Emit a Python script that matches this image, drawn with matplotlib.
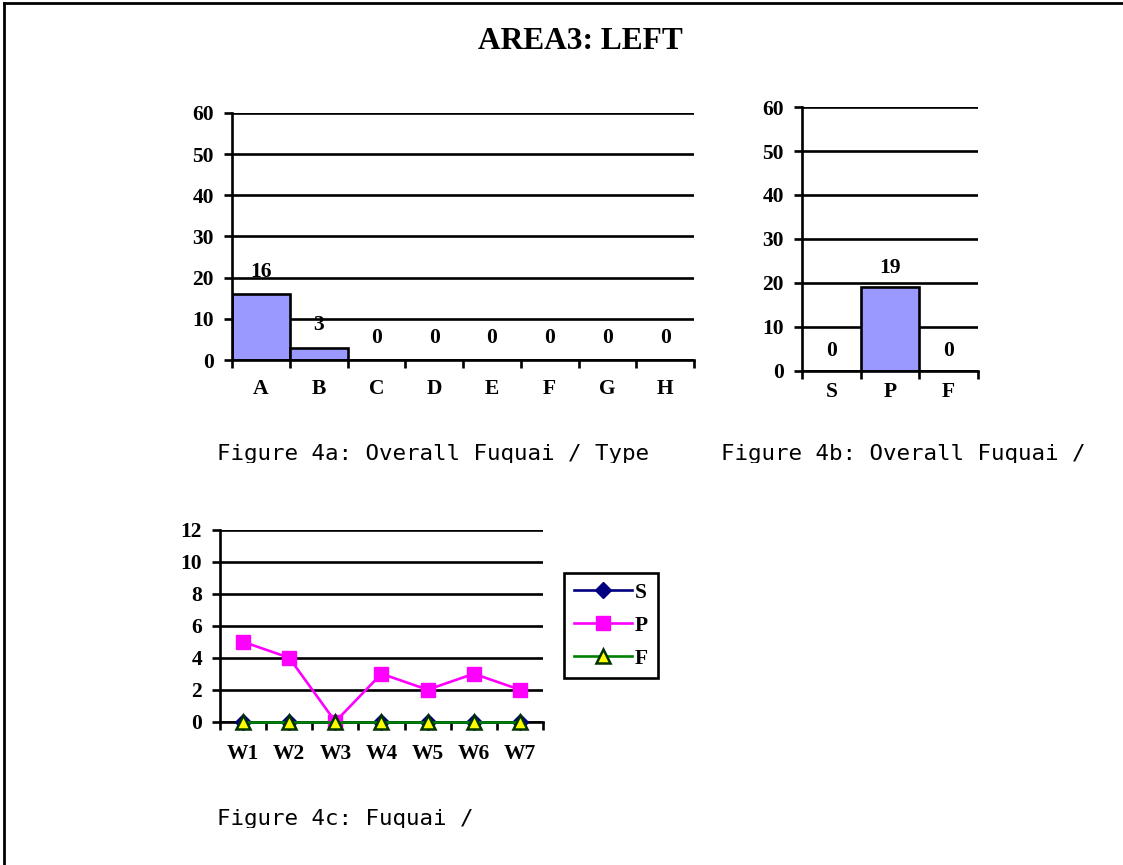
import matplotlib
matplotlib.use("Agg")
import matplotlib.pyplot as plt
from matplotlib.lines import Line2D
from matplotlib.transforms import Bbox, TransformedBbox

# Data
types = ['A', 'B', 'C', 'D', 'E', 'F', 'G', 'H']
type_counts = [16, 3, 0, 0, 0, 0, 0, 0]

spf = ['S', 'P', 'F']
spf_counts = [0, 19, 0]

weeks = ['W1', 'W2', 'W3', 'W4', 'W5', 'W6', 'W7']
week_s = [0, 0, 0, 0, 0, 0, 0]
week_p = [5, 4, 0, 3, 2, 3, 2]
week_f = [0, 0, 0, 0, 0, 0, 0]

SERIF = 'Liberation Serif'
LW = 1.9
FS = 15.5
BAR_COLOR = '#9999FF'


def style_axes(ax, labels, ymax, ystep, ypad, xpad):
    n = len(labels)
    ax.set_xlim(-0.5, n - 0.5)
    ax.set_ylim(0, ymax)
    ax.set_yticks(range(0, ymax + 1, ystep))
    for s in ['top', 'right']:
        ax.spines[s].set_visible(False)
    for s in ['left', 'bottom']:
        ax.spines[s].set_linewidth(LW)
    ax.set_axisbelow(True)
    ax.yaxis.grid(True, color='black', linewidth=LW)
    # ticks at category boundaries, labels at centres
    ax.set_xticks([i - 0.5 for i in range(n + 1)])
    ax.set_xticklabels([])
    ax.set_xticks(range(n), minor=True)
    ax.set_xticklabels(labels, minor=True, fontfamily=SERIF,
                       fontweight='bold', fontsize=FS)
    ax.tick_params(axis='x', which='major', direction='out', length=5.5, width=LW)
    ax.tick_params(axis='x', which='minor', length=0, pad=xpad)
    ax.tick_params(axis='y', direction='out', length=6, width=LW, pad=ypad)
    for lab in ax.get_yticklabels():
        lab.set_fontfamily(SERIF)
        lab.set_fontweight('bold')
        lab.set_fontsize(FS)


def caption(fig, x, y, txt, clip_y):
    t = fig.text(x, y, txt, fontsize=16.2, family='DejaVu Sans Mono',
                 ha='left', va='baseline')
    t.set_clip_box(TransformedBbox(Bbox([[0, clip_y], [1, 1]]), fig.transFigure))
    t.set_clip_on(True)


fig = plt.figure(figsize=(11.23, 8.65), dpi=100)

# frame lines (left and top only)
fig.add_artist(Line2D([0.0036, 0.0036], [0, 0.996], color='black', linewidth=2,
                      transform=fig.transFigure))
fig.add_artist(Line2D([0.0036, 1], [0.996, 0.996], color='black', linewidth=2,
                      transform=fig.transFigure))

fig.text(0.5165, 0.9526, 'AREA3: LEFT', fontsize=22.6, fontfamily=SERIF,
         fontweight='bold', ha='center', va='center')

# Figure 4a
ax1 = fig.add_axes([0.2066, 0.5838, 0.4114, 0.2856])
bars1 = ax1.bar(range(len(types)), type_counts, width=1.0, color=BAR_COLOR,
                edgecolor='black', linewidth=LW)
style_axes(ax1, types, 60, 10, 7, 14)
ax1.bar_label(bars1, padding=9, fontfamily=SERIF, fontweight='bold', fontsize=FS)

# Figure 4b
ax2 = fig.add_axes([0.7142, 0.5711, 0.1567, 0.3052])
bars2 = ax2.bar(range(len(spf)), spf_counts, width=1.0, color=BAR_COLOR,
                edgecolor='black', linewidth=LW)
style_axes(ax2, spf, 60, 10, 7, 8)
ax2.bar_label(bars2, padding=7, fontfamily=SERIF, fontweight='bold', fontsize=FS)

# Figure 4c
ax3 = fig.add_axes([0.1959, 0.1657, 0.2876, 0.2216])
x = range(len(weeks))
ax3.plot(x, week_s, color='#000080', marker='D', markersize=8.5,
         markerfacecolor='#000080', markeredgecolor='#000080', linewidth=LW,
         label='S', clip_on=False, zorder=3)
ax3.plot(x, week_p, color='#FF00FF', marker='s', markersize=10,
         markerfacecolor='#FF00FF', markeredgecolor='#FF00FF', linewidth=LW,
         label='P', clip_on=False, zorder=3)
ax3.plot(x, week_f, color='#008000', marker='^', markersize=10.5,
         markerfacecolor='#FFFF00', markeredgecolor='#003300', markeredgewidth=1.8,
         linewidth=LW, label='F', clip_on=False, zorder=4)
style_axes(ax3, weeks, 12, 2, 7, 16)
leg = ax3.legend(loc='upper left', bbox_to_anchor=(0.5022, 0.3376),
                 bbox_transform=fig.transFigure, borderaxespad=0,
                 fancybox=False, edgecolor='black', framealpha=1,
                 handlelength=2.7, handletextpad=0.15, labelspacing=0.6,
                 borderpad=0.45,
                 prop={'family': SERIF, 'weight': 'bold', 'size': FS})
leg.get_frame().set_linewidth(LW)

caption(fig, 0.1932, 1 - 460 / 865, 'Figure 4a: Overall Fuquai / Type', 1 - 463 / 865)
caption(fig, 0.6420, 1 - 460 / 865, 'Figure 4b: Overall Fuquai /', 1 - 463 / 865)
caption(fig, 0.1932, 1 - 825 / 865, 'Figure 4c: Fuquai /', 1 - 828 / 865)

fig.savefig('out.png', dpi=100)
